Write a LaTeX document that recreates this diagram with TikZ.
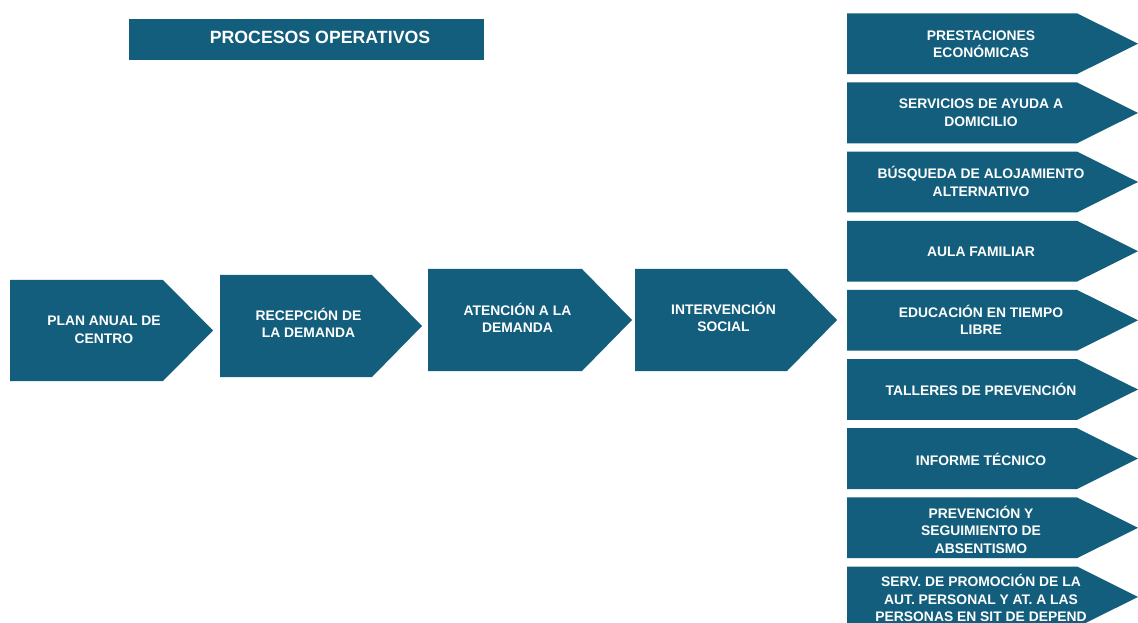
\documentclass[tikz,border=0pt]{standalone}
\usepackage{fontspec}
\setmainfont{Liberation Sans}
\definecolor{tealbox}{RGB}{18,94,124}
\newcommand\pentshape[5]{\fill[shapefill] (#1,#2) -- (#3,#2) -- (#4,{(#2+#5)/2}) -- (#3,#5) -- (#1,#5) -- cycle;}
\begin{document}
\begin{tikzpicture}[x=0.75pt,y=-0.75pt,
  shapefill/.style={fill=tealbox},
  lbl/.style={text=white,font=\bfseries\fontsize{10.4}{13.1}\selectfont,align=center,inner sep=0pt},
  ttl/.style={text=white,font=\bfseries\fontsize{13.3}{16}\selectfont,inner sep=0pt}]
\useasboundingbox (0,0) rectangle (1138,623);
\fill[white] (0,0) rectangle (1138,623);
% title
\fill[shapefill] (129,19) rectangle (484,60);
\node[ttl] (title) at (320,37) {PROCESOS OPERATIVOS};
% main process arrows
\pentshape{10}{280}{163}{213}{381}
\pentshape{220}{275}{372}{422}{377}
\pentshape{428}{269}{582}{632}{371}
\pentshape{635}{269}{787}{837}{371}
\node[lbl] (plan) at (104,330) {PLAN ANUAL DE\\CENTRO};
\node[lbl] (recep) at (308.5,323) {RECEPCIÓN DE\\LA DEMANDA};
\node[lbl] (atenc) at (517.5,318) {ATENCIÓN A LA\\DEMANDA};
\node[lbl] (interv) at (723.5,317) {INTERVENCIÓN\\SOCIAL};
% right column
\pentshape{847}{13.3}{1077}{1138}{74.1}
\pentshape{847}{82.5}{1077}{1138}{143.3}
\pentshape{847}{151.6}{1077}{1138}{212.4}
\pentshape{847}{220.8}{1077}{1138}{281.6}
\pentshape{847}{289.9}{1077}{1138}{350.7}
\pentshape{847}{359.1}{1077}{1138}{419.9}
\pentshape{847}{428.2}{1077}{1138}{489.0}
\pentshape{847}{497.4}{1077}{1138}{558.2}
\pentshape{847}{566.5}{1077}{1138}{627.3}
\node[lbl] (r1) at (981,44) {PRESTACIONES\\ECONÓMICAS};
\node[lbl] (r2) at (981,112.5) {SERVICIOS DE AYUDA A\\DOMICILIO};
\node[lbl] (r3) at (981,181.5) {BÚSQUEDA DE ALOJAMIENTO\\ALTERNATIVO};
\node[lbl] (r4) at (981,251.5) {AULA FAMILIAR};
\node[lbl] (r5) at (981,320) {EDUCACIÓN EN TIEMPO\\LIBRE};
\node[lbl] (r6) at (981,389.5) {TALLERES DE PREVENCIÓN};
\node[lbl] (r7) at (981,459) {INFORME TÉCNICO};
\node[lbl] (r8) at (981,529.5) {PREVENCIÓN Y\\SEGUIMIENTO DE\\ABSENTISMO};
\node[lbl] (r9) at (981,598) {SERV. DE PROMOCIÓN DE LA\\AUT. PERSONAL Y AT. A LAS\\PERSONAS EN SIT DE DEPEND};
\end{tikzpicture}
\end{document}
